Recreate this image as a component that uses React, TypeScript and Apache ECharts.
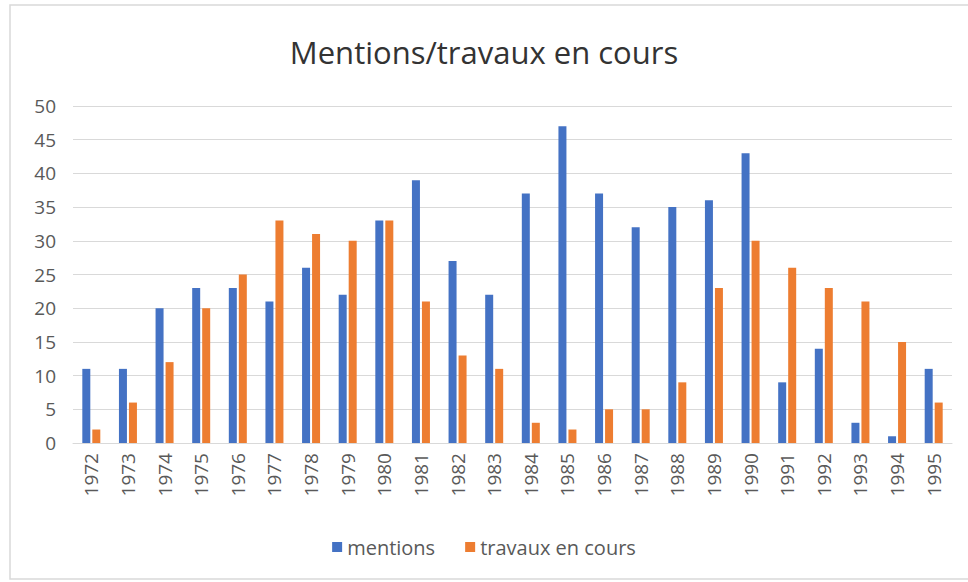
import React, { useEffect, useRef } from "react";
import * as echarts from "echarts";

const categories = ["1972","1973","1974","1975","1976","1977","1978","1979","1980","1981","1982","1983","1984","1985","1986","1987","1988","1989","1990","1991","1992","1993","1994","1995"];
const mentions = [11,11,20,23,23,21,26,22,33,39,27,22,37,47,37,32,35,36,43,9,14,3,1,11];
const travaux = [2,6,12,20,25,33,31,30,33,21,13,11,3,2,5,5,9,23,30,26,23,21,15,6];

const FONT = "'Open Sans', 'Noto Sans', sans-serif";

export default function App() {
  const ref = useRef<HTMLDivElement>(null);
  useEffect(() => {
    if (!ref.current) return;
    const chart = echarts.init(ref.current, null, { renderer: "svg" });
    chart.setOption({
      animation: false,
      backgroundColor: "#ffffff",
      title: {
        text: "Mentions/travaux en cours",
        left: "center",
        top: 31,
        textStyle: { fontFamily: FONT, fontSize: 31, fontWeight: "normal", color: "#333333" },
      },
      graphic: [
        {
          type: "rect",
          shape: { x: 10, y: 5, width: 970, height: 574 },
          style: { fill: "none", stroke: "#d9d9d9", lineWidth: 1.5 },
          silent: true,
        },
      ],
      legend: {
        bottom: 20,
        left: "center",
        itemWidth: 10,
        itemHeight: 10,
        itemGap: 30,
        icon: "rect",
        textStyle: { fontFamily: FONT, fontSize: 20, color: "#595959" },
        data: ["mentions", "travaux en cours"],
      },
      grid: { left: 73, right: 16, top: 106, bottom: 139, containLabel: false },
      xAxis: {
        type: "category",
        data: categories,
        axisLine: { lineStyle: { color: "#d9d9d9" } },
        axisTick: { show: false },
        axisLabel: {
          rotate: 90,
          margin: 10,
          fontFamily: FONT,
          fontSize: 19,
          color: "#595959",
          interval: 0,
        },
      },
      yAxis: {
        type: "value",
        min: 0,
        max: 50,
        interval: 5,
        axisLine: { show: false },
        axisTick: { show: false },
        splitLine: { lineStyle: { color: "#d9d9d9" } },
        axisLabel: { margin: 17, fontFamily: FONT, fontSize: 19, color: "#595959" },
      },
      series: [
        {
          name: "mentions",
          type: "bar",
          data: mentions,
          barWidth: 8,
          barGap: "25%",
          itemStyle: { color: "#4472C4" },
        },
        {
          name: "travaux en cours",
          type: "bar",
          data: travaux,
          barWidth: 8,
          barGap: "25%",
          itemStyle: { color: "#ED7D31" },
        },
      ],
    });
    return () => chart.dispose();
  }, []);
  return <div ref={ref} style={{ width: 968, height: 582, position: "absolute", left: 0, top: 0 }} />;
}
